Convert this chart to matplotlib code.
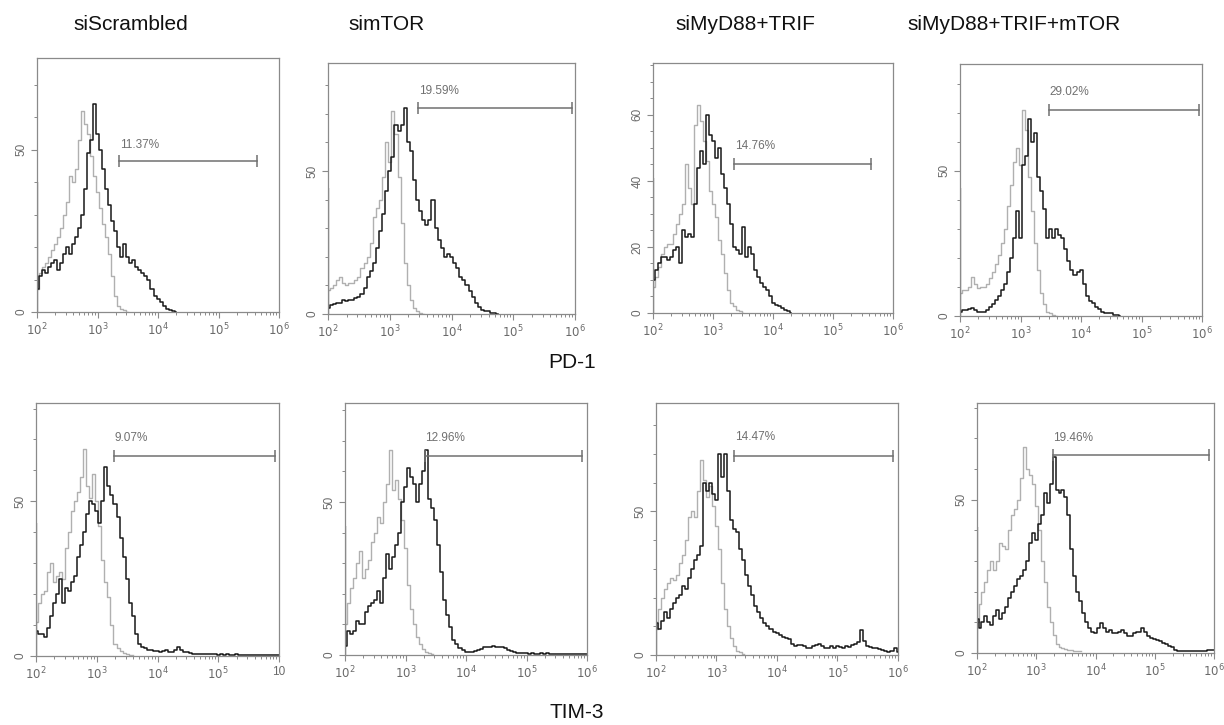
import numpy as np
import matplotlib
matplotlib.use("Agg")
import matplotlib.pyplot as plt
from matplotlib.ticker import FixedLocator, NullFormatter

plt.rcParams['font.family'] = ['Liberation Sans', 'DejaVu Sans']

# ---------------- data ----------------
titles = ["siScrambled", "simTOR", "siMyD88+TRIF", "siMyD88+TRIF+mTOR"]
row_labels = ["PD-1", "TIM-3"]
gate_labels = ["11.37%", "19.59%", "14.76%", "29.02%",
               "9.07%", "12.96%", "14.47%", "19.46%"]
# gate range in log10 units, gate height, label height
gate_lo = [3.36, 3.46, 3.35, 3.47, 3.29, 3.32, 3.29, 3.28]
gate_hi = [5.64, 5.95, 5.63, 5.95, 5.93, 5.92, 5.92, 5.92]
gate_y = [46.6, 71.9, 45.0, 70.8, 64.7, 65.0, 69.5, 64.5]
label_y = [51.5, 78.0, 50.5, 77.0, 70.6, 71.0, 76.0, 70.0]
y_max = [78.3, 87.8, 75.7, 86.8, 81.8, 82.3, 87.8, 81.5]
edge_spike = [40, 44, 41, 44, 43, 42, 12, 41]

# histogram values on a log10 grid starting at 2.00 with step 0.05
pd1_scr_stain = [7, 11, 13, 12, 14, 15, 16, 13, 15, 18, 20, 18, 21, 23, 26, 30, 38, 49, 53, 64,
                 55, 50, 44, 38, 33, 28, 25, 20, 17, 21, 17, 15, 16, 14, 13, 12, 11, 10, 7, 5,
                 4, 3, 2, 1, 0.5, 0.3, 0]
pd1_scr_ctrl = [7, 12, 14, 15, 17, 19, 21, 23, 26, 30, 34, 42, 40, 44, 53, 62, 58, 55, 48, 42,
                37, 32, 27, 23, 18, 11, 5, 2, 1, 0.5, 0]
pd1_mtor_stain = [2, 3, 3.5, 4, 4, 5, 4.5, 5, 5, 5.5, 6, 7, 9, 13, 15, 18, 23, 29, 35, 43,
                  50, 55, 66, 64, 66, 72, 60, 57, 47, 40, 36, 33, 31, 33, 40, 30, 26, 23, 20, 21,
                  20, 18, 16, 13, 12, 10, 8, 6, 4, 2.5, 1.5, 1, 1, 0.5, 0.3, 0]
pd1_mtor_ctrl = [8.5, 9, 10, 12, 13, 11, 10, 11, 11, 12, 13, 16, 18, 20, 25, 34, 37, 40, 48, 60,
                 53, 71, 63, 48, 32, 18, 10, 5, 2, 1, 0.5, 0]
pd1_myd_stain = [10, 13, 15, 17, 17, 16, 17, 19, 20, 15, 25, 23, 24, 23, 33, 44, 49, 45, 60, 54,
                 52, 47, 50, 42, 38, 33, 27, 20, 19, 18, 26, 17, 20, 18, 13, 11, 9, 8, 7, 5,
                 3, 2.5, 2, 1.5, 1, 0.5, 0]
pd1_myd_ctrl = [8, 11, 14, 18, 20, 21, 21, 24, 27, 30, 33, 45, 38, 33, 57, 63, 58, 52, 46, 37,
                33, 29, 22, 18, 12, 7, 3, 2, 1, 0.5, 0]
pd1_all_stain = [1.5, 2, 2, 2.5, 2.6, 2, 1.5, 1.5, 1.5, 2, 3, 4, 5.5, 7, 9, 11, 15, 20, 27, 36,
                 27, 52, 55, 68, 60, 63, 48, 43, 37, 27, 30, 27, 30, 28, 27, 23, 19, 16, 14, 15,
                 16, 11, 7, 5, 4.4, 3, 2.5, 1.5, 1, 1, 1, 0.5, 0.3, 0]
pd1_all_ctrl = [8, 9, 9, 10, 13.6, 11, 9.5, 10, 10, 11, 13, 15, 18, 21, 25, 30, 38, 45, 53, 58,
                52, 71, 64, 48, 36, 25, 16, 8, 4, 1.5, 1, 0.3, 0]

tim3_scr_stain = [8, 7, 7, 6, 9, 13, 17, 20, 25, 17, 22, 21, 24, 26, 32, 36, 40, 46, 50, 49,
                  47, 43, 50, 61, 55, 52, 49, 45, 38, 32, 25, 17, 13, 7, 4, 3, 2.5, 2, 2, 1.5,
                  1.5, 1.3, 1.5, 1.8, 1.3, 1.3, 2, 2.9, 2, 1.3, 1.3, 1, 0.8, 0.8, 0.7, 0.6, 0.5, 0.6, 0.5, 0.5,
                  0.4, 0.5, 0.4, 0.5, 0.4, 0.4, 0.5, 0.3, 0.4, 0.3, 0.4, 0.3, 0.3, 0.4, 0.3, 0.3, 0.2, 0.3, 0.2, 0.2,
                  0.2]
tim3_scr_ctrl = [11, 17, 20, 21, 27, 30, 24, 26, 27, 25, 35, 40, 47, 50, 53, 58, 67, 55, 51, 59,
                 50, 42, 31, 24, 19, 10, 4, 2.5, 1.5, 1, 0.7, 0.4, 0.2]
tim3_mtor_stain = [3, 8, 7, 8, 11, 10, 10, 14, 16, 17, 18, 21, 17, 25, 33, 28, 32, 36, 40, 50,
                   55, 61, 58, 56, 50, 56, 60, 67, 51, 48, 44, 36, 27, 18, 13, 9, 5, 3.5, 2.2, 1.5,
                   1.1, 1, 1.1, 1.3, 1.6, 2, 2.5, 2.7, 2.5, 2.9, 2.5, 2.7, 2.5, 2.2, 1.5, 1.3, 1.1, 0.8, 0.6, 0.5,
                   0.5, 0.4, 0.5, 0.4, 0.4, 0.5, 0.4, 0.5, 0.3, 0.4, 0.3, 0.3, 0.4, 0.3, 0.2, 0.3, 0.2, 0.2, 0.3, 0.2,
                   0.2]
tim3_mtor_ctrl = [10, 17, 22, 25, 30, 34, 25, 28, 31, 37, 40, 45, 43, 50, 56, 67, 54, 57, 51, 44,
                  35, 23, 15, 10, 6, 3.5, 2, 1, 0.5, 0.3]
tim3_myd_stain = [11, 9, 12, 15, 13, 16, 18, 20, 21, 24, 23, 27, 30, 33, 35, 38, 60, 57, 60, 56,
                  54, 70, 62, 70, 57, 47, 44, 43, 37, 33, 28, 24, 21, 17, 15, 13, 11, 10, 9, 8,
                  7.5, 7, 6.4, 6, 5.5, 4, 3, 3.5, 3.5, 3, 2.5, 2.3, 3, 3.5, 4, 3, 2.5, 2.3, 3, 2.5,
                  3, 2.9, 2.5, 3, 2.9, 3.5, 4, 4.5, 8.7, 5, 3, 2.9, 2.5, 2.3, 2, 1.7, 1.5, 1.2, 1.5, 2.3,
                  1]
tim3_myd_ctrl = [9, 16, 20, 23, 25, 27, 26, 28, 32, 35, 40, 48, 50, 48, 57, 68, 61, 55, 59, 52,
                 45, 37, 25, 16, 10, 6, 3, 1.5, 1, 0.5]
tim3_all_stain = [11, 8, 10, 12, 10, 9, 12, 14, 11, 13, 15, 18, 20, 22, 24, 25, 27, 30, 36, 39,
                  37, 42, 45, 52, 49, 55, 64, 53, 52, 53, 51, 45, 34, 25, 20, 17, 13, 10, 8, 7,
                  6.5, 8, 9.8, 8, 7, 7.6, 6.5, 6.5, 7, 7.6, 6.5, 5.5, 5.5, 6.5, 7, 7, 8.2, 7, 5.5, 5,
                  4.5, 4.3, 3.8, 3.3, 2.8, 2.2, 1.8, 1.1, 0.8, 0.6, 0.5, 0.5, 0.5, 0.5, 0.5, 0.6, 0.7, 0.8, 1, 1.1,
                  1]
tim3_all_ctrl = [10, 16, 20, 23, 27, 30, 27, 30, 36, 35, 34, 40, 45, 47, 50, 57, 67, 60, 58, 55,
                 48, 40, 30, 23, 15, 10, 6, 3, 2, 1.6, 1.3, 1.1, 1, 0.8, 0.7, 0.5]

stain_series = [pd1_scr_stain, pd1_mtor_stain, pd1_myd_stain, pd1_all_stain,
                tim3_scr_stain, tim3_mtor_stain, tim3_myd_stain, tim3_all_stain]
ctrl_series = [pd1_scr_ctrl, pd1_mtor_ctrl, pd1_myd_ctrl, pd1_all_ctrl,
               tim3_scr_ctrl, tim3_mtor_ctrl, tim3_myd_ctrl, tim3_all_ctrl]
x_tick_labels = [r"$10^2$", r"$10^3$", r"$10^4$", r"$10^5$", r"$10^6$"]

# ---------------- layout (pixel boxes) ----------------
W, H = 1224, 725
boxes = [(37, 58, 279, 312), (328, 63, 575, 314), (653, 63, 893, 313), (960, 64, 1202, 316),
         (36, 403, 279, 656), (345, 403, 587, 655), (656, 403, 898, 655), (977, 403, 1214, 653)]

fig = plt.figure(figsize=(W / 100, H / 100), dpi=100)
fig.patch.set_facecolor("white")

spine_c = "#8a8a8a"
tick_c = "#6a6a6a"
grey_c = "#b0b0b0"
black_c = "#181818"

for i, (x0, y0, x1, y1) in enumerate(boxes):
    ax = fig.add_axes([x0 / W, 1 - y1 / H, (x1 - x0) / W, (y1 - y0) / H])
    ax.set_xscale("log")
    ax.set_xlim(1e2, 1e6)
    ax.set_ylim(0, y_max[i])

    ctrl = np.array(ctrl_series[i], dtype=float)
    stain = np.array(stain_series[i], dtype=float)
    xc = 10 ** (2 + 0.05 * np.arange(len(ctrl)))
    xs = 10 ** (2 + 0.05 * np.arange(len(stain)))
    ax.plot(xc, ctrl, color=grey_c, lw=1.0, drawstyle="steps-mid", clip_on=True)
    ax.plot(xs, stain, color=black_c, lw=1.1, drawstyle="steps-mid", clip_on=True)
    ax.vlines(1e2, 0, edge_spike[i], color=black_c, lw=1.6)

    # gate
    ax.plot([10 ** gate_lo[i], 10 ** gate_hi[i]], [gate_y[i], gate_y[i]],
            color="#707070", lw=1.1, marker="|", markersize=8, markeredgewidth=1.1)
    ax.text(10 ** (gate_lo[i] + 0.01), label_y[i], gate_labels[i], fontsize=8.5,
            color="#707070", ha="left", va="center")

    for sp in ax.spines.values():
        sp.set_color(spine_c)
        sp.set_linewidth(0.9)

    # x ticks
    ax.xaxis.set_major_locator(FixedLocator([1e2, 1e3, 1e4, 1e5, 1e6]))
    labels = list(x_tick_labels)
    if i == 4:
        labels[-1] = "10"
    ax.set_xticklabels(labels)
    minors = [m * 10 ** d for d in range(2, 6) for m in range(2, 10)]
    ax.xaxis.set_minor_locator(FixedLocator(minors))
    ax.xaxis.set_minor_formatter(NullFormatter())

    # y ticks
    if i == 2:
        ax.set_yticks([0, 20, 40, 60])
        ax.yaxis.set_minor_locator(FixedLocator(np.arange(0, y_max[i], 5)))
    else:
        ax.set_yticks([0, 50])
        ax.yaxis.set_minor_locator(FixedLocator(np.arange(0, y_max[i], 10)))
    ax.tick_params(which="major", length=4, width=0.8, color=spine_c, labelcolor=tick_c,
                   labelsize=8.5, pad=3)
    ax.tick_params(which="minor", length=2.5, width=0.7, color=spine_c)
    for lab in ax.get_yticklabels():
        lab.set_rotation(90)
        lab.set_va("center")

# titles
title_x = [131, 387, 745, 1014]
for t, xc in zip(titles, title_x):
    fig.text(xc / W, 1 - 25 / H, t, ha="center", va="center", fontsize=15, color="#111111")
fig.text(572 / W, 1 - 363 / H, row_labels[0], ha="center", va="center", fontsize=15, color="#111111")
fig.text(577 / W, 1 - 712 / H, row_labels[1], ha="center", va="center", fontsize=15, color="#111111")

fig.savefig("out.png", dpi=100, facecolor="white")
